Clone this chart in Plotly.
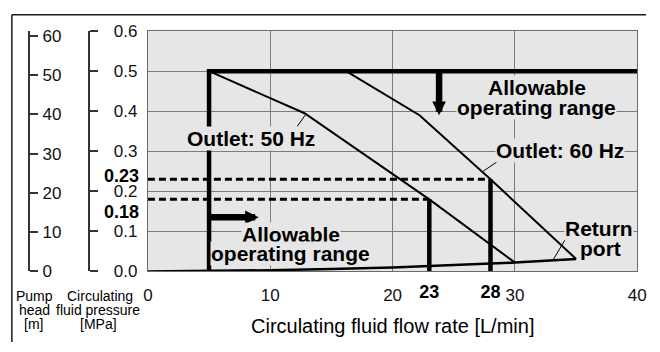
import plotly.graph_objects as go

# Pump performance curves: circulating fluid pressure [MPa] vs flow rate [L/min]
flow_50hz = [5, 12.8, 23, 30]
press_50hz = [0.5, 0.395, 0.18, 0.022]

flow_60hz = [16.2, 22.2, 28, 35]
press_60hz = [0.5, 0.39, 0.23, 0.031]

# Return port pressure loss
flow_return = [0, 5, 10, 15, 20, 25, 30, 35]
press_return = [0, 0.001, 0.003, 0.006, 0.010, 0.016, 0.022, 0.031]

# Allowable operating range boundary (min flow 5 L/min, max pressure 0.5 MPa)
bound_flow = [5, 5, 40]
bound_press = [0, 0.5, 0.5]

# Operating points
op_flow = [23, 28]
op_press = [0.18, 0.23]

# Axis ticks
x_ticks = [0, 10, 20, 30, 40]
p_ticks = [0.0, 0.1, 0.2, 0.3, 0.4, 0.5, 0.6]
head_ticks = [0, 10, 20, 30, 40, 50, 60]
head_max = 61.2  # 0.6 MPa expressed as metres of water head

# Leader lines from labels to curves
lead_50_x, lead_50_y = [12.2, 12.9], [0.362, 0.392]
lead_60_x, lead_60_y = [28.6, 27.4], [0.275, 0.250]
lead_ret_x, lead_ret_y = [34.1, 33.1], [0.079, 0.028]

# Arrows into the allowable region
arrow_down = dict(x=23.8, tail=0.5, tip=0.39)
arrow_right = dict(y=0.135, tail=5, tip=9.06)

W, H = 660, 352
FONT = "Liberation Sans, Arial, Helvetica, sans-serif"
BG = "#e6e6e6"
GRID = "#7c7c7c"


def px_x(p):
    return p / W


def px_y(p):
    return 1 - p / H


plot_l, plot_r, plot_t, plot_b = 146, 646, 23.4, 277.4

fig = go.Figure()

fig.add_trace(go.Scatter(x=bound_flow, y=bound_press, mode="lines",
                         line=dict(color="black", width=4.5), hoverinfo="skip"))
fig.add_trace(go.Scatter(x=flow_return, y=press_return, mode="lines",
                         line=dict(color="black", width=2.5), hoverinfo="skip"))
fig.add_trace(go.Scatter(x=flow_50hz, y=press_50hz, mode="lines",
                         line=dict(color="black", width=2), hoverinfo="skip"))
fig.add_trace(go.Scatter(x=flow_60hz, y=press_60hz, mode="lines",
                         line=dict(color="black", width=2), hoverinfo="skip"))

for f, p in zip(op_flow, op_press):
    fig.add_trace(go.Scatter(x=[0, f], y=[p, p], mode="lines",
                             line=dict(color="black", width=3, dash="7px,4px"),
                             hoverinfo="skip"))
    fig.add_trace(go.Scatter(x=[f, f], y=[0, p], mode="lines",
                             line=dict(color="black", width=4.5), hoverinfo="skip"))

for lx, ly in [(lead_50_x, lead_50_y), (lead_60_x, lead_60_y), (lead_ret_x, lead_ret_y)]:
    fig.add_trace(go.Scatter(x=lx, y=ly, mode="lines",
                             line=dict(color="black", width=1), hoverinfo="skip"))

# invisible carriers so the extra scales get drawn
for xa, ya in [("x", "y2"), ("x", "y3"), ("x2", "y")]:
    fig.add_trace(go.Scatter(x=[0], y=[0], xaxis=xa, yaxis=ya, mode="markers",
                             marker=dict(opacity=0), hoverinfo="skip"))

annotations = []

# arrows
annotations.append(dict(x=arrow_down["x"], y=arrow_down["tip"], ax=arrow_down["x"],
                        ay=arrow_down["tail"], xref="x", yref="y", axref="x", ayref="y",
                        text="", showarrow=True, arrowhead=2, arrowwidth=6.5,
                        arrowsize=0.42, arrowcolor="black"))
annotations.append(dict(x=arrow_right["tip"], y=arrow_right["y"], ax=arrow_right["tail"],
                        ay=arrow_right["y"], xref="x", yref="y", axref="x", ayref="y",
                        text="", showarrow=True, arrowhead=2, arrowwidth=6.5,
                        arrowsize=0.42, arrowcolor="black"))


def label(text, x, y, size=21, bold=True, bg=BG, xref="x", yref="y", **kw):
    t = f"<b>{text}</b>" if bold else text
    d = dict(text=t, x=x, y=y, xref=xref, yref=yref, showarrow=False,
             xanchor="center", yanchor="middle",
             font=dict(family=FONT, size=size, color="black"),
             bgcolor=bg, borderpad=0)
    d.update(kw)
    annotations.append(d)


CLEAR = "rgba(0,0,0,0)"

label("Outlet: 50 Hz", 8.46, 0.332)
label("Outlet: 60 Hz", 33.7, 0.301)
label("Allowable", 31.8, 0.4585)
label("operating range", 31.8, 0.41)
label("Allowable", 11.66, 0.092)
label("operating range", 11.66, 0.045)
label("Return", 36.9, 0.108)
label("port", 37.0, 0.058)

# bold operating-point pressure labels
label(f"{op_press[1]:.2f}", px_x(138), op_press[1], size=18, bg=CLEAR,
      xref="paper", xanchor="right", yshift=3)
label(f"{op_press[0]:.2f}", px_x(138), op_press[0], size=18, bg=CLEAR,
      xref="paper", xanchor="right", yshift=-13)

# left axis captions
for txt, x, y in [("Pump", 30, 303), ("head", 30, 318), ("[m]", 29, 333),
                  ("Circulating", 97, 303), ("fluid pressure", 95, 318), ("[MPa]", 96, 333)]:
    label(txt, px_x(x), px_y(y), size=14, bold=False, bg=CLEAR,
          xref="paper", yref="paper")

# x-axis title
label("Circulating fluid flow rate [L/min]", px_x(396), px_y(335), size=20, bold=False,
      bg=CLEAR, xref="paper", yref="paper")

shapes = [
    dict(type="line", xref="paper", yref="paper", x0=px_x(7), x1=px_x(655),
         y0=px_y(6), y1=px_y(6), line=dict(color="#1a1a1a", width=1.5)),
    dict(type="line", xref="paper", yref="paper", x0=px_x(7), x1=px_x(7),
         y0=px_y(6), y1=px_y(352), line=dict(color="#1a1a1a", width=1.5)),
]

fig.update_layout(
    width=W, height=H,
    margin=dict(l=0, r=0, t=0, b=0),
    paper_bgcolor="white",
    plot_bgcolor=BG,
    showlegend=False,
    font=dict(family=FONT, color="black"),
    annotations=annotations,
    shapes=shapes,
    xaxis=dict(domain=[px_x(plot_l), px_x(plot_r)], range=[0, 40],
               tickvals=x_ticks, showgrid=True, gridcolor=GRID, gridwidth=1,
               showline=True, linecolor="#6a6a6a", linewidth=1, mirror=True,
               zeroline=False, ticks="", tickfont=dict(size=17, color="#111"),
               ticklabelstandoff=8),
    # bold flow-rate labels for the operating points, on the same baseline
    xaxis2=dict(overlaying="x", anchor="y", side="bottom", range=[0, 40],
                tickvals=op_flow, ticktext=[f"<b>{f}</b>" for f in op_flow],
                showgrid=False, zeroline=False, showline=False, ticks="",
                tickfont=dict(size=18, color="black"), ticklabelstandoff=8),
    yaxis=dict(domain=[px_y(plot_b), px_y(plot_t)], range=[0, 0.6],
               tickvals=p_ticks, tickformat=".1f", showgrid=True, gridcolor=GRID,
               gridwidth=1, showline=True, linecolor="#6a6a6a", linewidth=1,
               mirror=True, zeroline=False, ticks="",
               tickfont=dict(size=17, color="#111"), ticklabelstandoff=6),
    yaxis2=dict(overlaying="y", anchor="free", position=px_x(86), side="right",
                range=[0, 0.6], tickvals=p_ticks, showgrid=False, zeroline=False,
                showline=True, linecolor="#333", linewidth=1.5, ticks="outside",
                ticklen=8, tickwidth=1.5, tickcolor="#333", showticklabels=False),
    yaxis3=dict(overlaying="y", anchor="free", position=px_x(25), side="right",
                range=[0, head_max], tickvals=head_ticks, showgrid=False, zeroline=False,
                showline=True, linecolor="#333", linewidth=1.5, ticks="outside",
                ticklen=8, tickwidth=1.5, tickcolor="#333",
                tickfont=dict(size=17, color="#111"), ticklabelstandoff=1),
)

fig.write_html("out.html")
